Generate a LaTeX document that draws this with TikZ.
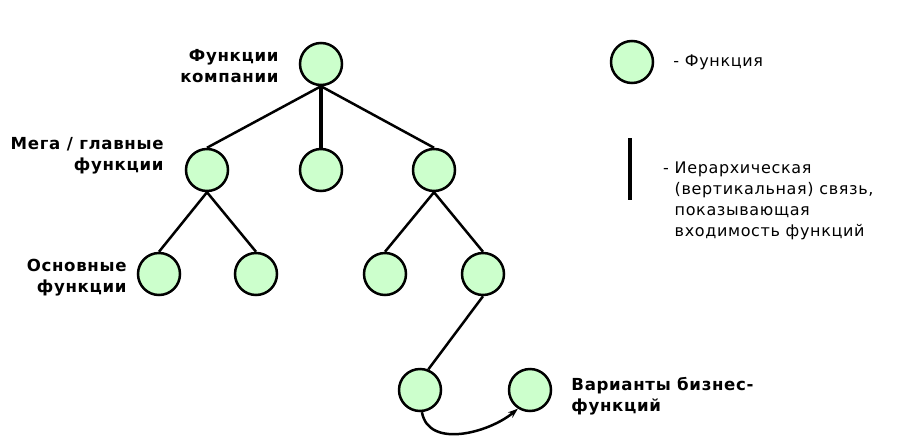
\documentclass[tikz,border=0pt]{standalone}
\usepackage{fontspec}
\setmainfont{DejaVu Sans}[LetterSpace=4]
\usetikzlibrary{arrows.meta,positioning}
\definecolor{funcgreen}{RGB}{204,255,204}
\tikzset{
  func/.style={circle,draw,line width=2.5pt,fill=funcgreen,minimum size=42pt,inner sep=0pt},
  link/.style={line width=2.5pt},
  vlink/.style={line width=3.5pt},
  lbl/.style={font=\bfseries\fontsize{16.6}{21}\selectfont,align=right,inner sep=0pt},
  note/.style={font=\fontsize{16}{21}\selectfont,align=left,inner sep=0pt}
}
\begin{document}
\begin{tikzpicture}[x=1pt,y=-1pt]
 \useasboundingbox (0,0) rectangle (901,447);
 \node[func] (top) at (321,64) {};
 \foreach \n/\x in {m1/207, m2/321, m3/434}
   \node[func] (\n) at (\x,170) {};
 \foreach \n/\x in {b1/159, b2/256, b3/385, b4/483}
   \node[func] (\n) at (\x,274) {};
 \node[func] (v1) at (420,390) {};
 \node[func] (v2) at (530,390) {};

 \draw[link] (top.south) -- (m1.north);
 \draw[vlink] (top.south) -- (m2.north);
 \draw[link] (top.south) -- (m3.north);
 \foreach \p/\c in {m1/b1, m1/b2, m3/b3, m3/b4}
   \draw[link] (\p.south) -- (\c.north);
 \draw[link] (b4.south) -- (v1.68);
 \draw[link,-{Stealth[length=10pt,width=7pt]}] (v1.-85) to[out=-80,in=-140] (v2.237);

 \node[lbl,left=20pt of top,yshift=-2pt] (lblTop) {Функции\\компании};
 \node[lbl,left=21pt of m1,yshift=14pt] (lblMega) {Мега / главные\\функции};
 \node[lbl,left=10pt of b1,yshift=-4pt] (lblBase) {Основные\\функции};
 \node[lbl,right=19pt of v2,yshift=-6pt,align=left] (lblVar) {Варианты бизнес-\\функций};

 % legend
 \node[func] (legF) at (632,62) {};
 \node[note,right=19pt of legF] (legFtext) {- Функция};
 \coordinate (legA) at (630,138);
 \coordinate (legB) at (630,200);
 \draw[line width=4pt] (legA) -- (legB);
 \node[note,anchor=north west] (legLtext) at (663,162)
   {- Иерархическая\\\phantom{- }(вертикальная) связь,\\\phantom{- }показывающая\\\phantom{- }входимость функций};
\end{tikzpicture}
\end{document}
